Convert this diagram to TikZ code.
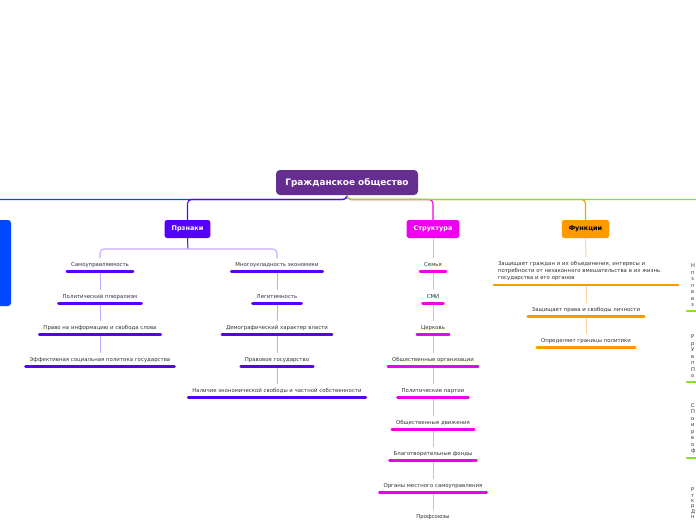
\documentclass[tikz,border=0pt]{standalone}
\usepackage{fontspec}
\setmainfont{DejaVu Sans}
\definecolor{titlec}{HTML}{662D91}
\definecolor{purp}{HTML}{5500FF}
\definecolor{purpl}{HTML}{C4ABFF}
\definecolor{bluec}{HTML}{0049FF}
\definecolor{mag}{HTML}{EE00EE}
\definecolor{magl}{HTML}{F7A6F7}
\definecolor{oran}{HTML}{FF9900}
\definecolor{oranl}{HTML}{FFD699}
\definecolor{grn}{HTML}{88E022}
\definecolor{txt}{HTML}{333333}
\tikzset{
  mainbox/.style={rounded corners=2.5pt, minimum height=18pt, inner xsep=7pt,
    font=\fontsize{6.5}{7}\selectfont\bfseries, text=white},
  leafbase/.style={font=\fontsize{5.4}{6}\selectfont, text=txt, inner xsep=4pt, inner ysep=4pt},
  leaf/.style={leafbase, text height=4pt, text depth=1pt},
  ul/.style={line width=2.6pt, line cap=round},
  conn/.style={line width=1.1pt, rounded corners=4pt},
  sub/.style={line width=1pt},
  cutcol/.style={leafbase, align=left, text width=20pt, font=\fontsize{5.2}{6.5}\selectfont},
}
\begin{document}
\begin{tikzpicture}[x=1pt,y=-1pt]
\useasboundingbox (0,0) rectangle (696,520);
\clip (0,0) rectangle (696,520);
\fill[white] (0,0) rectangle (696,520);

% main nodes
\node[rounded corners=4pt, fill=titlec, text=white, minimum height=25pt, minimum width=142pt,
  font=\fontsize{8.9}{10}\selectfont\bfseries] (title) at (347,182.5) {Гражданское общество};
\node[fill=bluec, rounded corners=3pt, minimum width=82pt, minimum height=86pt] (blue) at (-30,263) {};
\node[mainbox, fill=purp] (przn) at (187.5,229) {Прзнаки};
\node[mainbox, fill=mag] (struct) at (433,229) {Структура};
\node[mainbox, fill=oran, text=black] (func) at (585.5,229) {Функции};
\coordinate (grnend) at (720,225);
\coordinate (hub) at (347,199.5);
\coordinate (pj) at (188,249);

% main connectors
\draw[conn, bluec] (title.south) -- (hub) -| (blue.north);
\draw[conn, purp] (title.south) -- (hub) -| (przn.north);
\draw[conn, mag] (title.south) -- (hub) -| (struct.north);
\draw[conn, oran] (title.south) -- (hub) -| (func.north);
\draw[conn, grn] (title.south) -- (hub) -| (grnend);

% Признаки leaves
\node[leaf] (l1) at (100,265) {Самоуправляемость};
\node[leaf] (l2) at (100,296.5) {Политический плюрализм};
\node[leaf] (l3) at (100,328) {Право на информацию и свобода слова};
\node[leaf] (l4) at (100,359.5) {Эффективная социальная политика государства};
\node[leaf] (r1) at (277,265) {Многоукладность экономики};
\node[leaf] (r2) at (277,296.5) {Легитимность};
\node[leaf] (r3) at (277,328) {Демографический характер власти};
\node[leaf] (r4) at (277,359.5) {Правовое государство};
\node[leaf] (r5) at (277,391) {Наличие экономической свободы и частной собственности};

\draw[sub, purp] (przn.south) -- (pj);
\draw[conn, purpl] (pj) -| (l1.north);
\draw[conn, purpl] (pj) -| (r1.north);
\foreach \a/\b in {l1/l2,l2/l3,l3/l4,r1/r2,r2/r3,r3/r4,r4/r5}
  \draw[sub, purpl] (\a.south) -- (\b.north);
\foreach \n in {l1,l2,l3,l4,r1,r2,r3,r4,r5}
  \draw[ul, purp] (\n.south west) -- (\n.south east);

% Структура leaves
\node[leaf] (s1) at (433,265) {Семья};
\node[leaf] (s2) at (433,296.5) {СМИ};
\node[leaf] (s3) at (433,328) {Церковь};
\node[leaf] (s4) at (433,359.5) {Общественные организации};
\node[leaf] (s5) at (433,391) {Политические партии};
\node[leaf] (s6) at (433,422.5) {Общественные движения};
\node[leaf] (s7) at (433,454) {Благотворительные фонды};
\node[leaf] (s8) at (433,485.5) {Органы местного самоуправления};
\node[leaf] (s9) at (433,516.5) {Профсоюзы};
\draw[sub, magl] (struct.south) -- (s1.north);
\foreach \a/\b in {s1/s2,s2/s3,s3/s4,s4/s5,s5/s6,s6/s7,s7/s8,s8/s9}
  \draw[sub, magl] (\a.south) -- (\b.north);
\foreach \n in {s1,s2,s3,s4,s5,s6,s7,s8,s9}
  \draw[ul, mag] (\n.south west) -- (\n.south east);

% Функции leaves
\node[leafbase, align=left, text width=176pt, font=\fontsize{5.4}{7.2}\selectfont, anchor=south]
  (f1) at (586,285) {Защищает граждан и их объединения, интересы и\\потребности от незаконного вмешательства в их жизнь\\государства и его органов};
\node[leaf] (f2) at (586,309.5) {Защищает права и свободы личности};
\node[leaf] (f3) at (586,341) {Определяет границы политики};
\draw[sub, oranl] (func.south) -- (f1.north);
\draw[sub, oranl] (f1.south) -- (f2.north);
\draw[sub, oranl] (f2.south) -- (f3.north);
\foreach \n in {f1,f2,f3}
  \draw[ul, oran] (\n.south west) -- (\n.south east);

% cut-off right column
\node[cutcol, anchor=south west] (g1) at (687,311) {Н\\п\\з\\п\\в\\в\\з};
\node[cutcol, anchor=south west] (g2) at (687,382) {Р\\р\\У\\в\\п\\П\\о};
\node[cutcol, anchor=south west] (g3) at (687,458) {С\\П\\о\\и\\р\\в\\о\\ф};
\node[cutcol, font=\fontsize{5.2}{5.3}\selectfont, anchor=north west] (g4) at (687,484) {Р\\т\\к\\р\\Д\\н};
\foreach \n in {g1,g2,g3}
  \draw[ul, grn] (\n.south west) -- (\n.south east);
\end{tikzpicture}
\end{document}
